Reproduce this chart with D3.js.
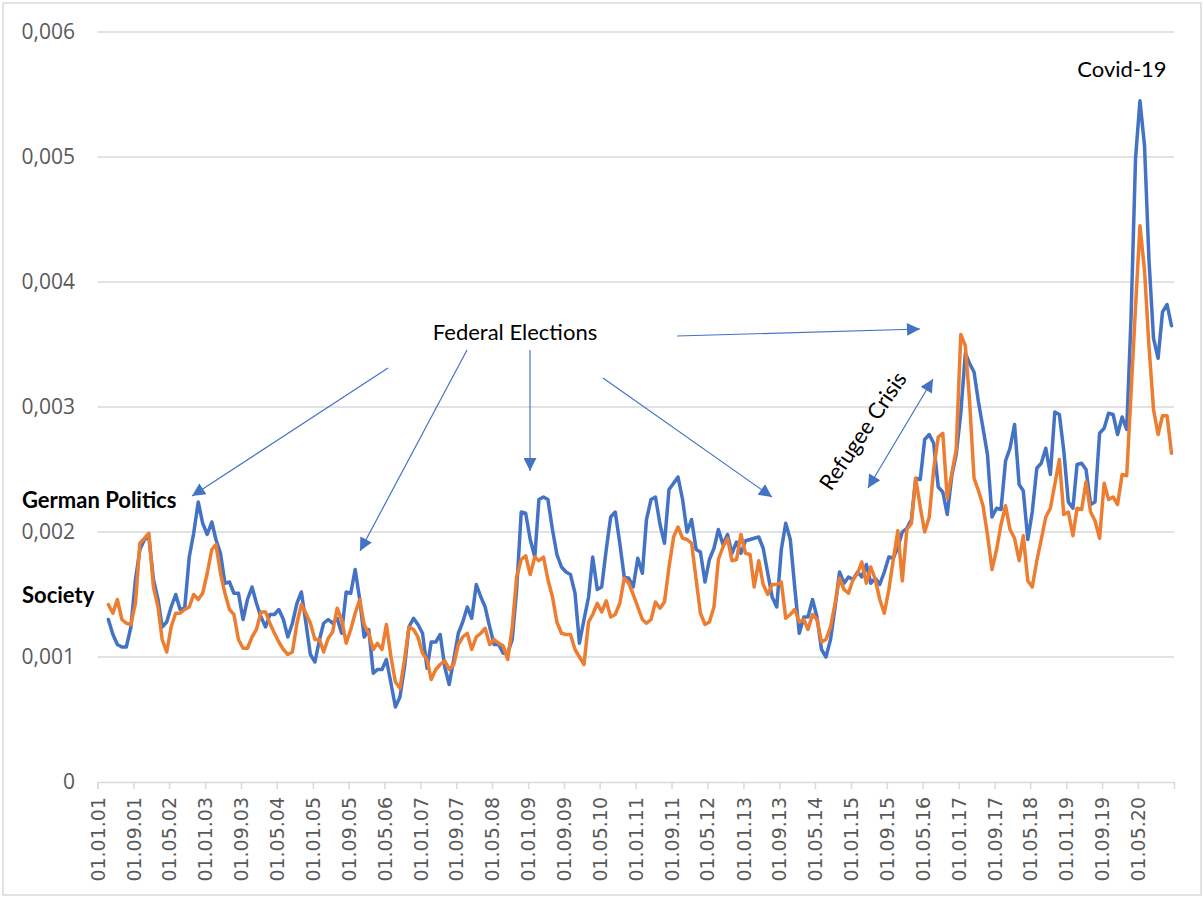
<!DOCTYPE html>
<html>
<head>
<meta charset="utf-8">
<script src="https://cdn.jsdelivr.net/npm/d3@7"></script>
<style>
  body { margin: 0; background: #fff; }
</style>
</head>
<body>
<div id="chart"></div>
<script>

// ------------------------------------------ DATA ------------------------------------------- //

// monthly shares, in per mille (x 0.001), from 15.03.01 to 15.12.20
let germanPolitics = [
  1.30, 1.18, 1.10, 1.08, 1.08, 1.24, 1.62, 1.86, 1.94, 1.96,
  1.62, 1.46, 1.24, 1.28, 1.40, 1.50, 1.38, 1.39, 1.80, 1.99,
  2.24, 2.07, 1.98, 2.08, 1.94, 1.83, 1.59, 1.60, 1.51, 1.51,
  1.30, 1.46, 1.56, 1.43, 1.32, 1.24, 1.34, 1.34, 1.38, 1.30,
  1.16, 1.27, 1.43, 1.52, 1.27, 1.02, 0.96, 1.14, 1.27, 1.30,
  1.27, 1.31, 1.19, 1.52, 1.51, 1.70, 1.46, 1.16, 1.22, 0.87,
  0.90, 0.90, 0.98, 0.79, 0.60, 0.68, 0.92, 1.24, 1.31, 1.26,
  1.19, 0.91, 1.12, 1.12, 1.18, 0.92, 0.78, 0.98, 1.19, 1.28,
  1.40, 1.31, 1.58, 1.48, 1.40, 1.24, 1.10, 1.10, 1.03, 1.03,
  1.14, 1.54, 2.16, 2.15, 1.94, 1.80, 2.26, 2.28, 2.26, 2.02,
  1.82, 1.72, 1.68, 1.66, 1.51, 1.11, 1.30, 1.48, 1.80, 1.54,
  1.56, 1.86, 2.12, 2.16, 1.91, 1.64, 1.63, 1.56, 1.79, 1.67,
  2.10, 2.26, 2.28, 2.06, 1.91, 2.34, 2.39, 2.44, 2.26, 2.00,
  2.10, 1.86, 1.84, 1.60, 1.78, 1.87, 2.02, 1.90, 1.98, 1.83,
  1.92, 1.83, 1.93, 1.94, 1.95, 1.96, 1.87, 1.67, 1.48, 1.40,
  1.86, 2.07, 1.94, 1.56, 1.19, 1.32, 1.32, 1.46, 1.32,
  1.06, 1.00, 1.14, 1.40, 1.68, 1.59, 1.64, 1.62, 1.68, 1.64,
  1.74, 1.59, 1.63, 1.58, 1.68, 1.80, 1.79, 1.88, 2.00, 2.03,
  2.10, 2.43, 2.42, 2.74, 2.78, 2.71, 2.36, 2.32, 2.14, 2.45,
  2.62, 2.95, 3.43, 3.35, 3.28, 3.04, 2.83, 2.62, 2.12, 2.19,
  2.18, 2.57, 2.67, 2.86, 2.38, 2.33, 1.94, 2.16, 2.51, 2.55,
  2.67, 2.46, 2.96, 2.94, 2.65, 2.24, 2.19, 2.54, 2.55, 2.50,
  2.22, 2.24, 2.79, 2.83, 2.95, 2.94, 2.78, 2.92, 2.82, 3.70,
  4.99, 5.45, 5.09, 4.18, 3.55, 3.39, 3.76, 3.82, 3.65
];

let society = [
  1.42, 1.35, 1.46, 1.30, 1.27, 1.26, 1.43, 1.91, 1.95, 1.99,
  1.56, 1.40, 1.14, 1.04, 1.24, 1.35, 1.35, 1.38, 1.40, 1.50,
  1.46, 1.51, 1.67, 1.86, 1.90, 1.67, 1.51, 1.38, 1.34, 1.14,
  1.07, 1.07, 1.16, 1.22, 1.36, 1.36, 1.27, 1.19, 1.12, 1.06,
  1.02, 1.04, 1.27, 1.42, 1.35, 1.27, 1.14, 1.14, 1.04, 1.15,
  1.20, 1.39, 1.30, 1.11, 1.22, 1.35, 1.46, 1.26, 1.19, 1.06,
  1.11, 1.06, 1.26, 1.00, 0.80, 0.75, 0.98, 1.24, 1.22, 1.16,
  1.03, 0.98, 0.82, 0.90, 0.94, 0.97, 0.90, 0.94, 1.10, 1.16,
  1.19, 1.06, 1.16, 1.19, 1.23, 1.10, 1.14, 1.11, 1.09, 0.98,
  1.24, 1.64, 1.78, 1.81, 1.66, 1.80, 1.77, 1.80, 1.62, 1.48,
  1.28, 1.19, 1.18, 1.18, 1.06, 1.00, 0.94, 1.28, 1.34, 1.43,
  1.36, 1.45, 1.32, 1.34, 1.43, 1.63, 1.59, 1.50, 1.40, 1.30,
  1.27, 1.30, 1.44, 1.39, 1.44, 1.72, 1.96, 2.04, 1.95, 1.94,
  1.91, 1.62, 1.35, 1.26, 1.28, 1.40, 1.78, 1.88, 1.95, 1.77,
  1.78, 1.98, 1.83, 1.82, 1.56, 1.77, 1.58, 1.50, 1.58, 1.58,
  1.60, 1.31, 1.34, 1.38, 1.28, 1.30, 1.22, 1.34, 1.30,
  1.12, 1.14, 1.24, 1.43, 1.63, 1.54, 1.51, 1.62, 1.67, 1.76,
  1.59, 1.72, 1.62, 1.46, 1.35, 1.54, 1.78, 2.01, 1.61, 2.02,
  2.07, 2.43, 2.20, 2.00, 2.12, 2.50, 2.76, 2.79, 2.27, 2.47,
  2.66, 3.58, 3.49, 3.06, 2.43, 2.33, 2.21, 1.98, 1.70, 1.86,
  2.06, 2.21, 2.02, 1.95, 1.77, 1.97, 1.61, 1.56, 1.77, 1.94,
  2.12, 2.19, 2.38, 2.58, 2.14, 2.16, 1.97, 2.19, 2.18, 2.40,
  2.16, 2.09, 1.95, 2.39, 2.26, 2.28, 2.22, 2.46, 2.45, 3.10,
  3.80, 4.45, 4.09, 3.49, 2.98, 2.78, 2.93, 2.93, 2.63
];

let tickLabels = [
  "01.01.01", "01.09.01", "01.05.02", "01.01.03", "01.09.03", "01.05.04",
  "01.01.05", "01.09.05", "01.05.06", "01.01.07", "01.09.07", "01.05.08",
  "01.01.09", "01.09.09", "01.05.10", "01.01.11", "01.09.11", "01.05.12",
  "01.01.13", "01.09.13", "01.05.14", "01.01.15", "01.09.15", "01.05.16",
  "01.01.17", "01.09.17", "01.05.18", "01.01.19", "01.09.19", "01.05.20"
];

let yTicks = [0, 0.001, 0.002, 0.003, 0.004, 0.005, 0.006];

// ----------------------------------------------------------------------------------------------------

let parseDate = d3.timeParse("%d.%m.%y");
let firstMonth = new Date(2001, 2, 15);
let dates = germanPolitics.map((v, i) => d3.timeMonth.offset(firstMonth, i));

var width = 1204,
    height = 898;

var svg = d3.select("#chart")
  .append("svg")
    .attr("width", width)
    .attr("height", height);

// chart border
svg.append("rect")
  .attr("x", 3).attr("y", 3)
  .attr("width", 1198).attr("height", 892)
  .attr("fill", "#fff")
  .attr("stroke", "#d9d9d9")
  .attr("stroke-width", 1.5);

// scales
var x = d3.scaleTime()
  .domain([parseDate("01.01.01"), parseDate("01.01.21")])
  .range([97.6, 1174]);

var y = d3.scaleLinear()
  .domain([0, 0.006])
  .range([782, 32]);

// horizontal grid lines
svg.append("g")
  .selectAll("line")
  .data(yTicks.filter(d => d > 0))
  .enter()
  .append("line")
  .attr("x1", x.range()[0])
  .attr("x2", x.range()[1])
  .attr("y1", d => y(d))
  .attr("y2", d => y(d))
  .attr("stroke", "#d9d9d9")
  .attr("stroke-width", 1.5);

// y labels with comma decimals
let de = d3.formatLocale({decimal: ",", thousands: ".", grouping: [3], currency: ["", " €"]});
let fmt = de.format(".3f");
svg.append("g")
  .selectAll("text")
  .data(yTicks)
  .enter()
  .append("text")
  .attr("x", 75)
  .attr("y", d => y(d))
  .attr("dy", "0.35em")
  .attr("text-anchor", "end")
  .style("font-family", "'Open Sans', sans-serif")
  .style("font-size", "21px")
  .style("fill", "#595959")
  .text(d => d === 0 ? "0" : fmt(d));

// x axis
let xAxis = svg.append("g")
  .attr("transform", "translate(0," + y(0) + ")")
  .call(d3.axisBottom(x)
    .tickValues(tickLabels.map(parseDate))
    .tickSize(7)
    .tickSizeOuter(7)
    .tickFormat((d, i) => tickLabels[i]));

xAxis.select(".domain").attr("stroke", "#d9d9d9").attr("stroke-width", 1.5);
xAxis.selectAll(".tick line").attr("stroke", "#d9d9d9").attr("stroke-width", 1.5);
xAxis.selectAll(".tick text")
  .attr("transform", "rotate(-90)")
  .attr("x", -15)
  .attr("y", 0)
  .attr("dy", "0.35em")
  .attr("text-anchor", "end")
  .style("font-family", "'DejaVu Sans', sans-serif")
  .style("font-size", "19px")
  .style("fill", "#595959");

// the two lines, society drawn on top
let line = d3.line()
  .x((d, i) => x(dates[i]))
  .y(d => y(d / 1000));

svg.append("path")
  .datum(germanPolitics)
  .attr("fill", "none")
  .attr("stroke", "#4472c4")
  .attr("stroke-width", 3.5)
  .attr("stroke-linejoin", "round")
  .attr("stroke-linecap", "round")
  .attr("d", line);

svg.append("path")
  .datum(society)
  .attr("fill", "none")
  .attr("stroke", "#ed7d31")
  .attr("stroke-width", 3.5)
  .attr("stroke-linejoin", "round")
  .attr("stroke-linecap", "round")
  .attr("d", line);

// ------------------------------------------ ANNOTATIONS ------------------------------------------- //

svg.append("defs").append("marker")
  .attr("id", "head")
  .attr("viewBox", "0 0 10 10")
  .attr("refX", 10)
  .attr("refY", 5)
  .attr("markerWidth", 16)
  .attr("markerHeight", 13)
  .attr("markerUnits", "userSpaceOnUse")
  .attr("orient", "auto-start-reverse")
  .append("path")
  .attr("d", "M0,0L10,5L0,10z")
  .attr("fill", "#4472c4");

let arrows = [
  {x1: 388, y1: 368, x2: 192, y2: 496, both: false},
  {x1: 467, y1: 350, x2: 360, y2: 551, both: false},
  {x1: 530, y1: 350, x2: 530, y2: 471, both: false},
  {x1: 603, y1: 378, x2: 772, y2: 497, both: false},
  {x1: 677, y1: 336, x2: 920, y2: 329, both: false},
  {x1: 868, y1: 488, x2: 933, y2: 379, both: true}
];

svg.append("g")
  .selectAll("line")
  .data(arrows)
  .enter()
  .append("line")
  .attr("x1", d => d.x1).attr("y1", d => d.y1)
  .attr("x2", d => d.x2).attr("y2", d => d.y2)
  .attr("stroke", "#4472c4")
  .attr("stroke-width", 1.2)
  .attr("marker-end", "url(#head)")
  .attr("marker-start", d => d.both ? "url(#head)" : null);

function label(txt, xx, yy, anchor, bold) {
  return svg.append("text")
    .attr("x", xx)
    .attr("y", yy)
    .attr("text-anchor", anchor)
    .style("font-family", "Lato, sans-serif")
    .style("font-size", "22px")
    .style("font-weight", bold ? "bold" : "normal")
    .style("fill", "#000")
    .text(txt);
}

label("Federal Elections", 515, 340, "middle", false);
label("Covid-19", 1122, 77, "middle", false);
label("German Politics", 22, 508, "start", true);
label("Society", 22, 603, "start", true);

svg.append("text")
  .attr("transform", "translate(863,431) rotate(-56)")
  .attr("text-anchor", "middle")
  .attr("dy", "0.35em")
  .style("font-family", "Lato, sans-serif")
  .style("font-size", "22px")
  .style("fill", "#000")
  .text("Refugee Crisis");

</script>
</body>
</html>
